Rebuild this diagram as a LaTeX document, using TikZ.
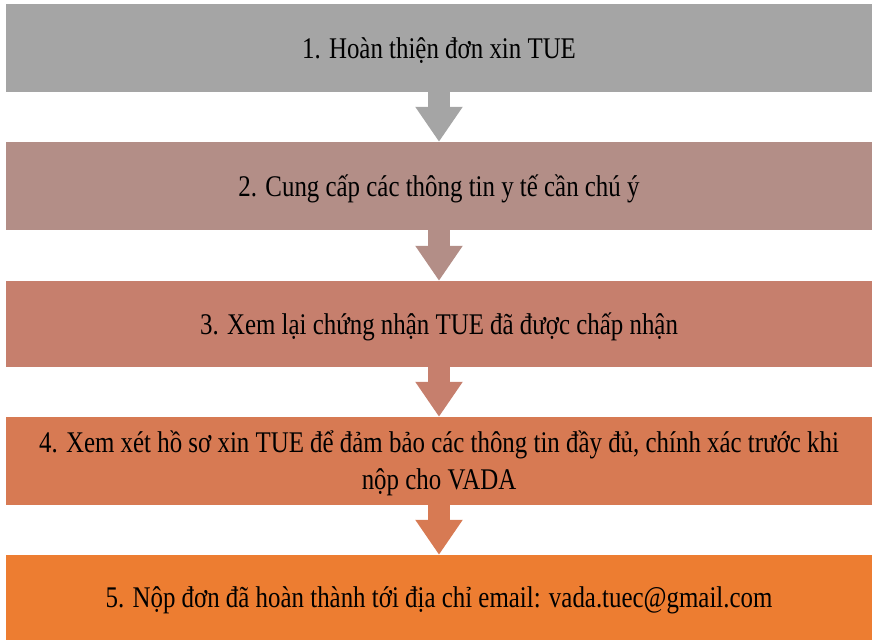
\documentclass[tikz,border=0pt]{standalone}
\usepackage{fontspec}
\setmainfont{Liberation Serif}
\usepackage{graphicx}
\usetikzlibrary{arrows.meta}

\definecolor{col1}{HTML}{A5A5A5}
\definecolor{col2}{HTML}{B38E87}
\definecolor{col3}{HTML}{C67F6D}
\definecolor{col4}{HTML}{D77A53}
\definecolor{col5}{HTML}{ED7D31}
\newcommand{\squeeze}[1]{\raisebox{-3pt}[\height][\depth]{\scalebox{0.83}[1]{\begin{tabular}{@{}c@{}}#1\end{tabular}}}}

\tikzset{
    stepbox/.style={rectangle, minimum width=866pt, inner sep=0pt,
        font=\fontsize{30}{37}\selectfont, text=black},
    flow/.style={line width=22pt, -{Triangle[width=45pt,length=35pt]}}
}

\begin{document}
\begin{tikzpicture}[x=1pt,y=-1pt]
    \useasboundingbox (0,0) rectangle (873,640);
    % Steps
    \foreach \name/\i/\y/\h in {{1. Hoàn thiện đơn xin TUE}/1/48/88,
        {2. Cung cấp các thông tin y tế cần chú ý}/2/186/88,
        {3. Xem lại chứng nhận TUE đã được chấp nhận}/3/324/86,
        {4. Xem xét hồ sơ xin TUE để đảm bảo các thông tin đầy đủ, chính xác trước khi\\nộp cho VADA}/4/461/88,
        {5. Nộp đơn đã hoàn thành tới địa chỉ email: vada.tuec@gmail.com}/5/597.5/85} {
        \node[stepbox, fill=col\i, minimum height=\h pt] (Step-\i) at (439,\y) {\squeeze{\name}};
    }
    % Arrows
    \foreach \i/\j in {1/2,2/3,3/4,4/5} {
        \draw[flow, draw=col\i] (Step-\i.south) -- (Step-\j.north);
    }
\end{tikzpicture}
\end{document}
